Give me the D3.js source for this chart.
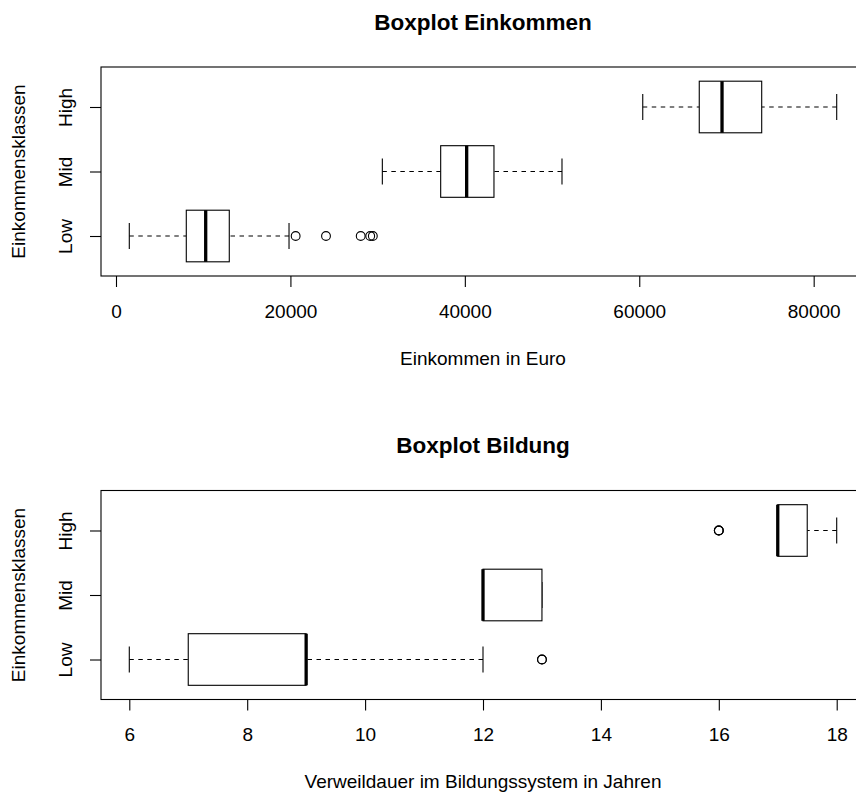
<!DOCTYPE html>
<html>
<head>
<meta charset="utf-8">
<script src="https://cdn.jsdelivr.net/npm/d3@7"></script>
<style>
  body { margin: 0; background: #fff; }
  svg { display: block; font-family: 'Liberation Sans', Arial, sans-serif; }
</style>
</head>
<body>
<div class="svg-container"></div>
<script>
// income classes (bottom to top)
const classes = ['Low', 'Mid', 'High'];

// income boxplot stats per class
const incomeLower = [1525, 30540, 60400];
const incomeQ1 = [8060, 37230, 66880];
const incomeMedian = [10285, 40210, 69490];
const incomeQ3 = [12990, 43340, 74040];
const incomeUpper = [19840, 51140, 82640];
const incomeOutliers = [[20600, 24080, 28060, 29150, 29450], [], []];
const incomeTicks = [0, 20000, 40000, 60000, 80000];

// education boxplot stats per class
const eduLower = [6, 12, 17];
const eduQ1 = [7, 12, 17];
const eduMedian = [9, 12, 17];
const eduQ3 = [9, 13, 17.5];
const eduUpper = [12, 13, 18];
const eduOutliers = [[13, 13], [], [16, 16, 16]];
const eduTicks = [6, 8, 10, 12, 14, 16, 18];

const width = 856;
const height = 792;
const fontSize = '19px';

const svg = d3.select('.svg-container')
  .append('svg')
  .attr('width', width)
  .attr('height', height)

svg.append('rect')
  .attr('width', width)
  .attr('height', height)
  .attr('fill', '#fff')

function renderBoxplot(opts) {
  const left = 101;
  const right = 865;
  const top = opts.top;
  const bottom = opts.top + 209;

  // build one record per class
  const data = classes.map((c, i) => ({
    cls: c,
    pos: i + 1,
    lower: opts.lower[i],
    q1: opts.q1[i],
    median: opts.median[i],
    q3: opts.q3[i],
    upper: opts.upper[i],
    outliers: opts.outliers[i],
  }));

  // R style range with 4% padding
  const allVals = data.flatMap(d => [d.lower, d.upper, ...d.outliers]);
  const lo = d3.min(allVals);
  const hi = d3.max(allVals);
  const pad = (hi - lo) * 0.04;

  const xScale = d3.scaleLinear()
    .domain([lo - pad, hi + pad])
    .range([left, right])

  const yScale = d3.scaleLinear()
    .domain([0.38, 3.62])
    .range([bottom, top])

  const half = (yScale(0) - yScale(0.4));
  const staple = half / 2;

  const g = svg.append('g')

  // title
  g.append('text')
    .text(opts.title)
    .attr('x', (left + right) / 2)
    .attr('y', top - 37.5)
    .attr('text-anchor', 'middle')
    .style('font-weight', 'bold')
    .style('font-size', '22.5px')

  // axes
  const xAxis = d3.axisBottom(xScale)
    .tickValues(opts.ticks)
    .tickFormat(d3.format('d'))
    .tickSizeInner(11)
    .tickSizeOuter(0)
    .tickPadding(17.5)

  const xg = g.append('g')
    .attr('transform', `translate(0, ${bottom})`)
    .call(xAxis)
  xg.select('.domain').remove()
  xg.selectAll('line').attr('stroke', '#000').attr('stroke-width', 1.1)
  xg.selectAll('text')
    .attr('fill', '#000')
    .style('font-size', fontSize)
    .style('font-family', "'Liberation Sans', Arial, sans-serif")

  const yAxis = d3.axisLeft(yScale)
    .tickValues([1, 2, 3])
    .tickFormat(d => classes[d - 1])
    .tickSizeInner(11)
    .tickSizeOuter(0)

  const yg = g.append('g')
    .attr('transform', `translate(${left}, 0)`)
    .call(yAxis)
  yg.select('.domain').remove()
  yg.selectAll('line').attr('stroke', '#000').attr('stroke-width', 1.1)
  yg.selectAll('text')
    .attr('fill', '#000')
    .attr('x', 0)
    .attr('y', -29)
    .attr('dy', null)
    .attr('text-anchor', 'middle')
    .attr('transform', 'rotate(-90)')
    .style('font-size', fontSize)
    .style('font-family', "'Liberation Sans', Arial, sans-serif")

  // axis labels
  g.append('text')
    .text(opts.xLabel)
    .attr('x', (left + right) / 2)
    .attr('y', bottom + 88.5)
    .attr('text-anchor', 'middle')
    .style('font-size', fontSize)

  g.append('text')
    .text('Einkommensklassen')
    .attr('transform', `translate(25, ${(top + bottom) / 2}) rotate(-90)`)
    .attr('text-anchor', 'middle')
    .style('font-size', fontSize)

  const boxes = g.selectAll('.box')
    .data(data)
    .enter()
    .append('g')
    .attr('class', 'box')

  // dashed whiskers, drawn from whisker end to box edge
  boxes.append('line')
    .attr('x1', d => xScale(d.lower))
    .attr('x2', d => xScale(d.q1))
    .attr('y1', d => yScale(d.pos))
    .attr('y2', d => yScale(d.pos))
    .attr('stroke', '#000')
    .attr('stroke-width', 1.1)
    .attr('stroke-dasharray', '4.5,4.5')

  boxes.append('line')
    .attr('x1', d => xScale(d.upper))
    .attr('x2', d => xScale(d.q3))
    .attr('y1', d => yScale(d.pos))
    .attr('y2', d => yScale(d.pos))
    .attr('stroke', '#000')
    .attr('stroke-width', 1.1)
    .attr('stroke-dasharray', '4.5,4.5')

  // staples
  ;['lower', 'upper'].forEach(k => {
    boxes.append('line')
      .attr('x1', d => xScale(d[k]))
      .attr('x2', d => xScale(d[k]))
      .attr('y1', d => yScale(d.pos) - staple)
      .attr('y2', d => yScale(d.pos) + staple)
      .attr('stroke', '#000')
      .attr('stroke-width', 1.1)
  })

  // box
  boxes.append('rect')
    .attr('x', d => xScale(d.q1))
    .attr('width', d => xScale(d.q3) - xScale(d.q1))
    .attr('y', d => yScale(d.pos) - half)
    .attr('height', half * 2)
    .attr('fill', '#fff')
    .attr('stroke', '#000')
    .attr('stroke-width', 1.1)

  // median
  boxes.append('line')
    .attr('x1', d => xScale(d.median))
    .attr('x2', d => xScale(d.median))
    .attr('y1', d => yScale(d.pos) - half)
    .attr('y2', d => yScale(d.pos) + half)
    .attr('stroke', '#000')
    .attr('stroke-width', 3.3)

  // outliers
  boxes.selectAll('circle')
    .data(d => d.outliers.map(v => ({ v: v, pos: d.pos })))
    .enter()
    .append('circle')
    .attr('cx', d => xScale(d.v))
    .attr('cy', d => yScale(d.pos))
    .attr('r', 4.4)
    .attr('fill', 'none')
    .attr('stroke', '#000')
    .attr('stroke-width', 1.1)

  // frame around plot region
  g.append('rect')
    .attr('x', left)
    .attr('y', top)
    .attr('width', right - left)
    .attr('height', bottom - top)
    .attr('fill', 'none')
    .attr('stroke', '#000')
    .attr('stroke-width', 1.1)
}

renderBoxplot({
  title: 'Boxplot Einkommen',
  xLabel: 'Einkommen in Euro',
  top: 67,
  lower: incomeLower,
  q1: incomeQ1,
  median: incomeMedian,
  q3: incomeQ3,
  upper: incomeUpper,
  outliers: incomeOutliers,
  ticks: incomeTicks,
})

renderBoxplot({
  title: 'Boxplot Bildung',
  xLabel: 'Verweildauer im Bildungssystem in Jahren',
  top: 490.5,
  lower: eduLower,
  q1: eduQ1,
  median: eduMedian,
  q3: eduQ3,
  upper: eduUpper,
  outliers: eduOutliers,
  ticks: eduTicks,
})
</script>
</body>
</html>
